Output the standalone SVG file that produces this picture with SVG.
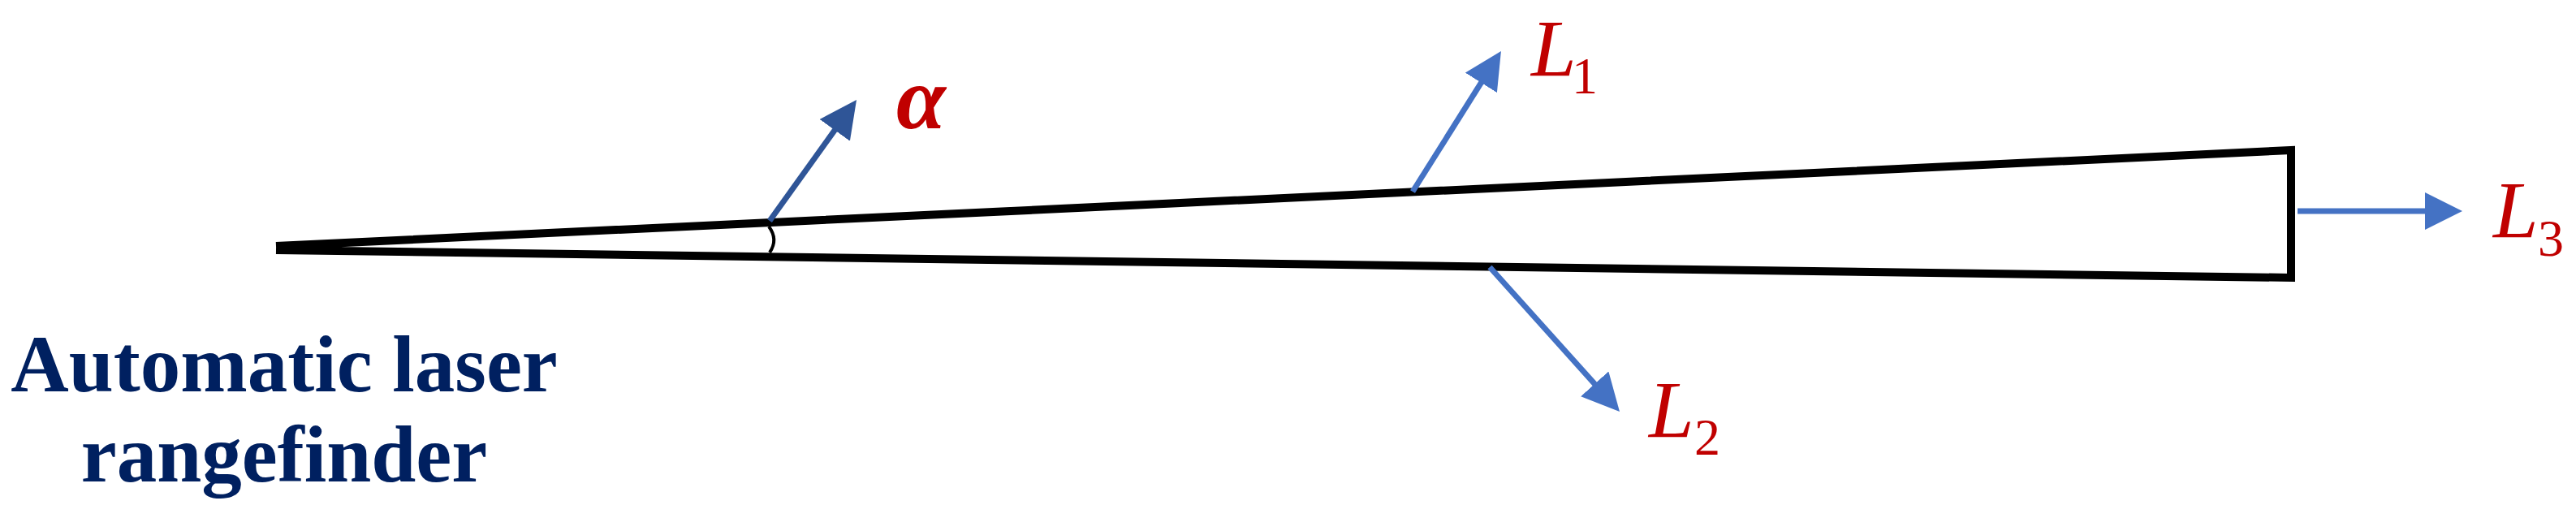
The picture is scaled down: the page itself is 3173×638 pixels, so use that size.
<svg xmlns="http://www.w3.org/2000/svg" width="3173" height="638" viewBox="0 0 3173 638">
<style>
.wedge{fill:none;stroke:#000;stroke-width:10;stroke-linejoin:miter;stroke-linecap:butt}
.arc{fill:none;stroke:#000;stroke-width:4}
.arr{fill:none;stroke:#4472C4;stroke-width:7}
.arr-dark{fill:none;stroke:#2F5597;stroke-width:7}
.title{font-family:"Liberation Serif","Times New Roman",serif;font-weight:bold;font-size:99px;fill:#002060;text-anchor:middle}
.lab{font-family:"Liberation Serif","Times New Roman",serif;fill:#C00000}
.main{font-style:italic;font-size:100px}
.sub{font-size:64px}
</style>
<defs>
<marker id="head" markerUnits="userSpaceOnUse" markerWidth="46" markerHeight="46" refX="36" refY="23" orient="auto">
<path d="M0,0 L46,23 L0,46 Z" fill="#4472C4"/>
</marker>
<marker id="head-dark" markerUnits="userSpaceOnUse" markerWidth="46" markerHeight="46" refX="36" refY="23" orient="auto">
<path d="M0,0 L46,23 L0,46 Z" fill="#2F5597"/>
</marker>
</defs>
<rect width="3173" height="638" fill="#fff"/>
<g id="beam">
<path class="wedge" d="M340 303 L2822 185 L2822 342 L340 308"/>
<path class="arc" d="M947 279 Q959 295 948 311"/>
</g>
<g id="rangefinder-label">
<text class="title" x="350" y="482">Automatic laser</text>
<text class="title" x="350" y="593">rangefinder</text>
</g>
<g id="connectors">
<line class="arr-dark" x1="948" y1="272" x2="1049.2" y2="131.1" marker-end="url(#head-dark)"/>
<line class="arr" x1="1740" y1="236" x2="1843.6" y2="71.4" marker-end="url(#head)"/>
<line class="arr" x1="1835" y1="329" x2="1988.3" y2="499.6" marker-end="url(#head)"/>
<line class="arr" x1="2830" y1="260" x2="3023" y2="260" marker-end="url(#head)"/>
</g>
<g id="alpha-label">
<text class="lab" x="1104" y="158" font-style="italic" font-weight="bold" font-size="110">α</text>
</g>
<g id="L1-label">
<text class="lab"><tspan class="main" x="1886" y="93">L</tspan><tspan class="sub" x="1936" y="115">1</tspan></text>
</g>
<g id="L2-label">
<text class="lab"><tspan class="main" x="2031" y="538">L</tspan><tspan class="sub" x="2087" y="560">2</tspan></text>
</g>
<g id="L3-label">
<text class="lab"><tspan class="main" x="3071" y="292">L</tspan><tspan class="sub" x="3126" y="315">3</tspan></text>
</g>
</svg>
